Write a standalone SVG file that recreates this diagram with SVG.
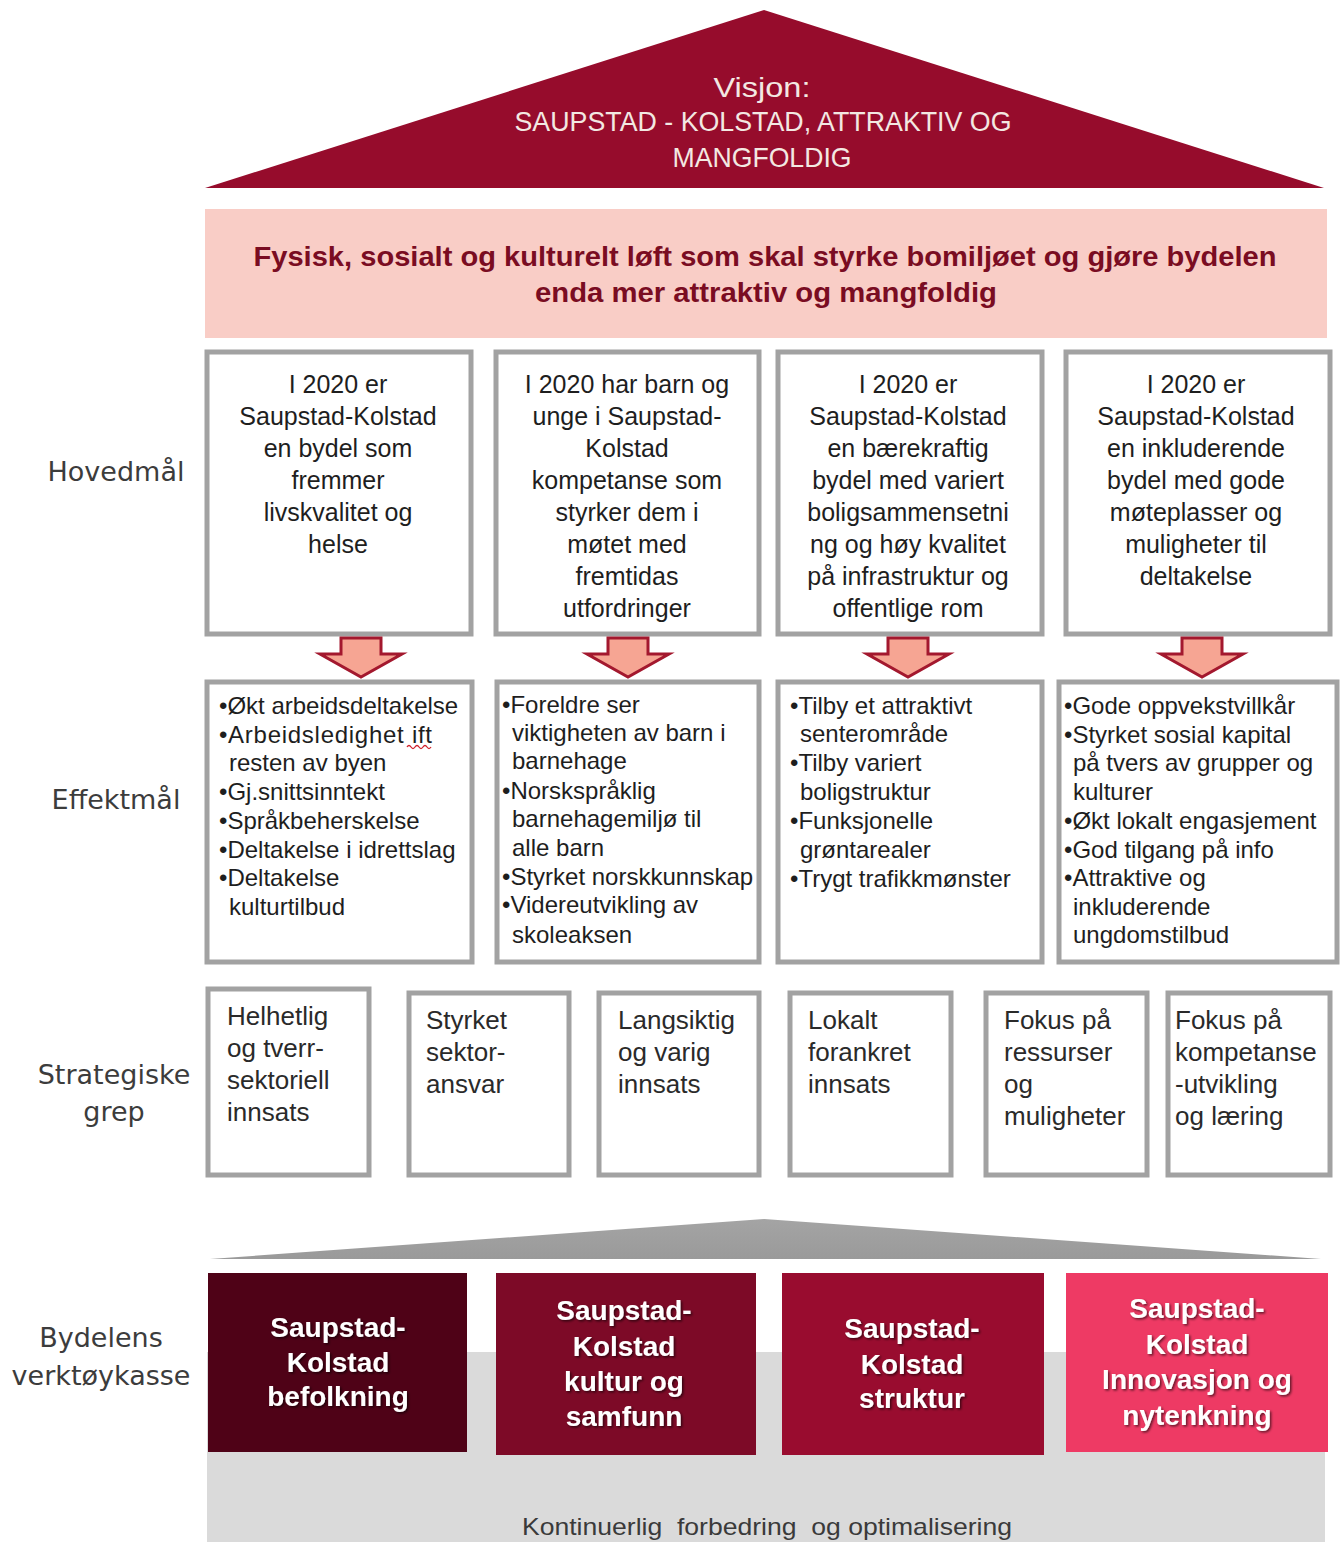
<svg xmlns="http://www.w3.org/2000/svg" width="1344" height="1542" viewBox="0 0 1344 1542">
<style>
.lbl{font-family:"DejaVu Sans",Verdana,sans-serif;font-size:27px;fill:#3c3c3c;text-anchor:middle}
.box{fill:#fff;stroke:#a2a2a2;stroke-width:5}
.hm{font-family:"Liberation Sans",Arial,sans-serif;font-size:25px;fill:#1e1e1e;text-anchor:middle}
.em{font-family:"Liberation Sans",Arial,sans-serif;font-size:24px;fill:#1e1e1e}
.sg{font-family:"Liberation Sans",Arial,sans-serif;font-size:26px;fill:#2a2a2a}
.tk{font-family:"Liberation Sans",Arial,sans-serif;font-size:28px;font-weight:bold;fill:#fff;text-anchor:middle;filter:url(#sh)}
.arr{fill:#f6a593;stroke:#a3182e;stroke-width:3;stroke-linejoin:miter}
</style>
<defs>
<filter id="sh" x="-10%" y="-20%" width="130%" height="150%">
<feDropShadow dx="1.5" dy="1.5" stdDeviation="1" flood-color="#000" flood-opacity="0.6"/>
</filter>
<linearGradient id="groof" x1="0" y1="0" x2="0" y2="1">
<stop offset="0" stop-color="#a4a4a4"/>
<stop offset="1" stop-color="#9a9a9a"/>
</linearGradient>
</defs>
<rect width="1344" height="1542" fill="#fff"/>

<!-- Left labels -->
<g id="labels">
<text class="lbl" x="116" y="481">Hovedmål</text>
<text class="lbl" x="116" y="809">Effektmål</text>
<text class="lbl" x="114" y="1084">Strategiske</text>
<text class="lbl" x="114" y="1121">grep</text>
<text class="lbl" x="101" y="1347">Bydelens</text>
<text class="lbl" x="101" y="1385">verktøykasse</text>
</g>

<!-- Vision roof -->
<g id="visjon">
<polygon points="764,10 1324,188 205,188" fill="#960c2c"/>
<g font-family="Liberation Sans,Arial,sans-serif" font-size="28" fill="#f3e8e2" text-anchor="middle">
<text x="762" y="97" textLength="97" lengthAdjust="spacingAndGlyphs">Visjon:</text>
<text x="763" y="131" textLength="497" lengthAdjust="spacingAndGlyphs">SAUPSTAD - KOLSTAD, ATTRAKTIV OG</text>
<text x="762" y="167" textLength="179" lengthAdjust="spacingAndGlyphs">MANGFOLDIG</text>
</g>
</g>

<!-- Banner -->
<g id="banner">
<rect x="205" y="209" width="1122" height="129" fill="#f9cdc6"/>
<g font-family="Liberation Sans,Arial,sans-serif" font-size="27" font-weight="bold" fill="#7a0c22" text-anchor="middle">
<text x="765" y="266" textLength="1023" lengthAdjust="spacingAndGlyphs">Fysisk, sosialt og kulturelt løft som skal styrke bomiljøet og gjøre bydelen</text>
<text x="766" y="302" textLength="462" lengthAdjust="spacingAndGlyphs">enda mer attraktiv og mangfoldig</text>
</g>
</g>

<!-- Hovedmål -->
<g id="hovedmal-1">
<rect class="box" x="207" y="352" width="264" height="282"/>
<text class="hm" x="338" y="393">I 2020 er</text>
<text class="hm" x="338" y="425">Saupstad-Kolstad</text>
<text class="hm" x="338" y="457">en bydel som</text>
<text class="hm" x="338" y="489">fremmer</text>
<text class="hm" x="338" y="521">livskvalitet og</text>
<text class="hm" x="338" y="553">helse</text>
</g>
<g id="hovedmal-2">
<rect class="box" x="496" y="352" width="263" height="282"/>
<text class="hm" x="627" y="393">I 2020 har barn og</text>
<text class="hm" x="627" y="425">unge i Saupstad-</text>
<text class="hm" x="627" y="457">Kolstad</text>
<text class="hm" x="627" y="489">kompetanse som</text>
<text class="hm" x="627" y="521">styrker dem i</text>
<text class="hm" x="627" y="553">møtet med</text>
<text class="hm" x="627" y="585">fremtidas</text>
<text class="hm" x="627" y="617">utfordringer</text>
</g>
<g id="hovedmal-3">
<rect class="box" x="778" y="352" width="264" height="282"/>
<text class="hm" x="908" y="393">I 2020 er</text>
<text class="hm" x="908" y="425">Saupstad-Kolstad</text>
<text class="hm" x="908" y="457">en bærekraftig</text>
<text class="hm" x="908" y="489">bydel med variert</text>
<text class="hm" x="908" y="521">boligsammensetni</text>
<text class="hm" x="908" y="553">ng og høy kvalitet</text>
<text class="hm" x="908" y="585">på infrastruktur og</text>
<text class="hm" x="908" y="617">offentlige rom</text>
</g>
<g id="hovedmal-4">
<rect class="box" x="1066" y="352" width="264" height="282"/>
<text class="hm" x="1196" y="393">I 2020 er</text>
<text class="hm" x="1196" y="425">Saupstad-Kolstad</text>
<text class="hm" x="1196" y="457">en inkluderende</text>
<text class="hm" x="1196" y="489">bydel med gode</text>
<text class="hm" x="1196" y="521">møteplasser og</text>
<text class="hm" x="1196" y="553">muligheter til</text>
<text class="hm" x="1196" y="585">deltakelse</text>
</g>

<!-- Effektmål -->
<g id="effektmal-1">
<rect class="box" x="207" y="682" width="265" height="280"/>
<text class="em" x="219" y="714">•Økt arbeidsdeltakelse</text>
<text class="em" x="219" y="743" textLength="213" lengthAdjust="spacing">•Arbeidsledighet ift</text>
<text class="em" x="229" y="771">resten av byen</text>
<text class="em" x="219" y="800">•Gj.snittsinntekt</text>
<text class="em" x="219" y="829">•Språkbeherskelse</text>
<text class="em" x="219" y="858">•Deltakelse i idrettslag</text>
<text class="em" x="219" y="886">•Deltakelse</text>
<text class="em" x="229" y="915">kulturtilbud</text>
<path d="M407,747 q2,-3 4,0 t4,0 t4,0 t4,0 t4,0 t4,0" fill="none" stroke="#d0202a" stroke-width="1.3"/>
</g>
<g id="effektmal-2">
<rect class="box" x="497" y="682" width="262" height="280"/>
<text class="em" x="502" y="713">•Foreldre ser</text>
<text class="em" x="512" y="741">viktigheten av barn i</text>
<text class="em" x="512" y="769">barnehage</text>
<text class="em" x="502" y="799">•Norskspråklig</text>
<text class="em" x="512" y="827">barnehagemiljø til</text>
<text class="em" x="512" y="856">alle barn</text>
<text class="em" x="502" y="885">•Styrket norskkunnskap</text>
<text class="em" x="502" y="913">•Videreutvikling av</text>
<text class="em" x="512" y="943">skoleaksen</text>
</g>
<g id="effektmal-3">
<rect class="box" x="778" y="682" width="264" height="280"/>
<text class="em" x="790" y="714">•Tilby et attraktivt</text>
<text class="em" x="800" y="742">senterområde</text>
<text class="em" x="790" y="771">•Tilby variert</text>
<text class="em" x="800" y="800">boligstruktur</text>
<text class="em" x="790" y="829">•Funksjonelle</text>
<text class="em" x="800" y="858">grøntarealer</text>
<text class="em" x="790" y="887">•Trygt trafikkmønster</text>
</g>
<g id="effektmal-4">
<rect class="box" x="1059" y="682" width="278" height="280"/>
<text class="em" x="1064" y="714">•Gode oppvekstvillkår</text>
<text class="em" x="1064" y="743">•Styrket sosial kapital</text>
<text class="em" x="1073" y="771">på tvers av grupper og</text>
<text class="em" x="1073" y="800">kulturer</text>
<text class="em" x="1064" y="829">•Økt lokalt engasjement</text>
<text class="em" x="1064" y="858">•God tilgang på info</text>
<text class="em" x="1064" y="886">•Attraktive og</text>
<text class="em" x="1073" y="915">inkluderende</text>
<text class="em" x="1073" y="943">ungdomstilbud</text>
</g>

<!-- Connectors: arrows from Hovedmål to Effektmål -->
<g id="connectors">
<polygon class="arr" points="341,638 381,638 381,654 402,654 361,677 320,654 341,654"/>
<polygon class="arr" points="608,638 648,638 648,654 669,654 628,677 587,654 608,654"/>
<polygon class="arr" points="888,638 928,638 928,654 949,654 908,677 867,654 888,654"/>
<polygon class="arr" points="1182,638 1222,638 1222,654 1243,654 1202,677 1161,654 1182,654"/>
</g>

<!-- Strategiske grep -->
<g id="grep-1">
<rect class="box" x="208" y="989" width="161" height="186"/>
<text class="sg" x="227" y="1025">Helhetlig</text>
<text class="sg" x="227" y="1057">og tverr-</text>
<text class="sg" x="227" y="1089">sektoriell</text>
<text class="sg" x="227" y="1121">innsats</text>
</g>
<g id="grep-2">
<rect class="box" x="409" y="993" width="160" height="182"/>
<text class="sg" x="426" y="1029">Styrket</text>
<text class="sg" x="426" y="1061">sektor-</text>
<text class="sg" x="426" y="1093">ansvar</text>
</g>
<g id="grep-3">
<rect class="box" x="599" y="993" width="160" height="182"/>
<text class="sg" x="618" y="1029">Langsiktig</text>
<text class="sg" x="618" y="1061">og varig</text>
<text class="sg" x="618" y="1093">innsats</text>
</g>
<g id="grep-4">
<rect class="box" x="790" y="993" width="161" height="182"/>
<text class="sg" x="808" y="1029">Lokalt</text>
<text class="sg" x="808" y="1061">forankret</text>
<text class="sg" x="808" y="1093">innsats</text>
</g>
<g id="grep-5">
<rect class="box" x="986" y="993" width="161" height="182"/>
<text class="sg" x="1004" y="1029">Fokus på</text>
<text class="sg" x="1004" y="1061">ressurser</text>
<text class="sg" x="1004" y="1093">og</text>
<text class="sg" x="1004" y="1125">muligheter</text>
</g>
<g id="grep-6">
<rect class="box" x="1168" y="993" width="162" height="182"/>
<text class="sg" x="1175" y="1029">Fokus på</text>
<text class="sg" x="1175" y="1061">kompetanse</text>
<text class="sg" x="1175" y="1093">-utvikling</text>
<text class="sg" x="1175" y="1125">og læring</text>
</g>

<!-- Toolbox base -->
<g id="verktoykasse">
<polygon points="210,1259 764,1219 1321,1259" fill="url(#groof)"/>
<rect x="207" y="1352" width="1118" height="190" fill="#dadada"/>
<text x="767" y="1535" font-family="Liberation Sans,Arial,sans-serif" font-size="24" fill="#3a3a3a" text-anchor="middle" style="white-space:pre" textLength="490" lengthAdjust="spacingAndGlyphs">Kontinuerlig  forbedring  og optimalisering</text>
</g>
<g id="tool-1">
<rect x="208" y="1273" width="259" height="179" fill="#4f0217"/>
<text class="tk" x="338" y="1337">Saupstad-</text>
<text class="tk" x="338" y="1372">Kolstad</text>
<text class="tk" x="338" y="1406">befolkning</text>
</g>
<g id="tool-2">
<rect x="496" y="1273" width="260" height="182" fill="#7d0a27"/>
<text class="tk" x="624" y="1320">Saupstad-</text>
<text class="tk" x="624" y="1356">Kolstad</text>
<text class="tk" x="624" y="1391">kultur og</text>
<text class="tk" x="624" y="1426">samfunn</text>
</g>
<g id="tool-3">
<rect x="782" y="1273" width="262" height="182" fill="#990c2f"/>
<text class="tk" x="912" y="1338">Saupstad-</text>
<text class="tk" x="912" y="1374">Kolstad</text>
<text class="tk" x="912" y="1408">struktur</text>
</g>
<g id="tool-4">
<rect x="1066" y="1273" width="262" height="179" fill="#ee3a64"/>
<text class="tk" x="1197" y="1318">Saupstad-</text>
<text class="tk" x="1197" y="1354">Kolstad</text>
<text class="tk" x="1197" y="1389">Innovasjon og</text>
<text class="tk" x="1197" y="1425">nytenkning</text>
</g>
</svg>
